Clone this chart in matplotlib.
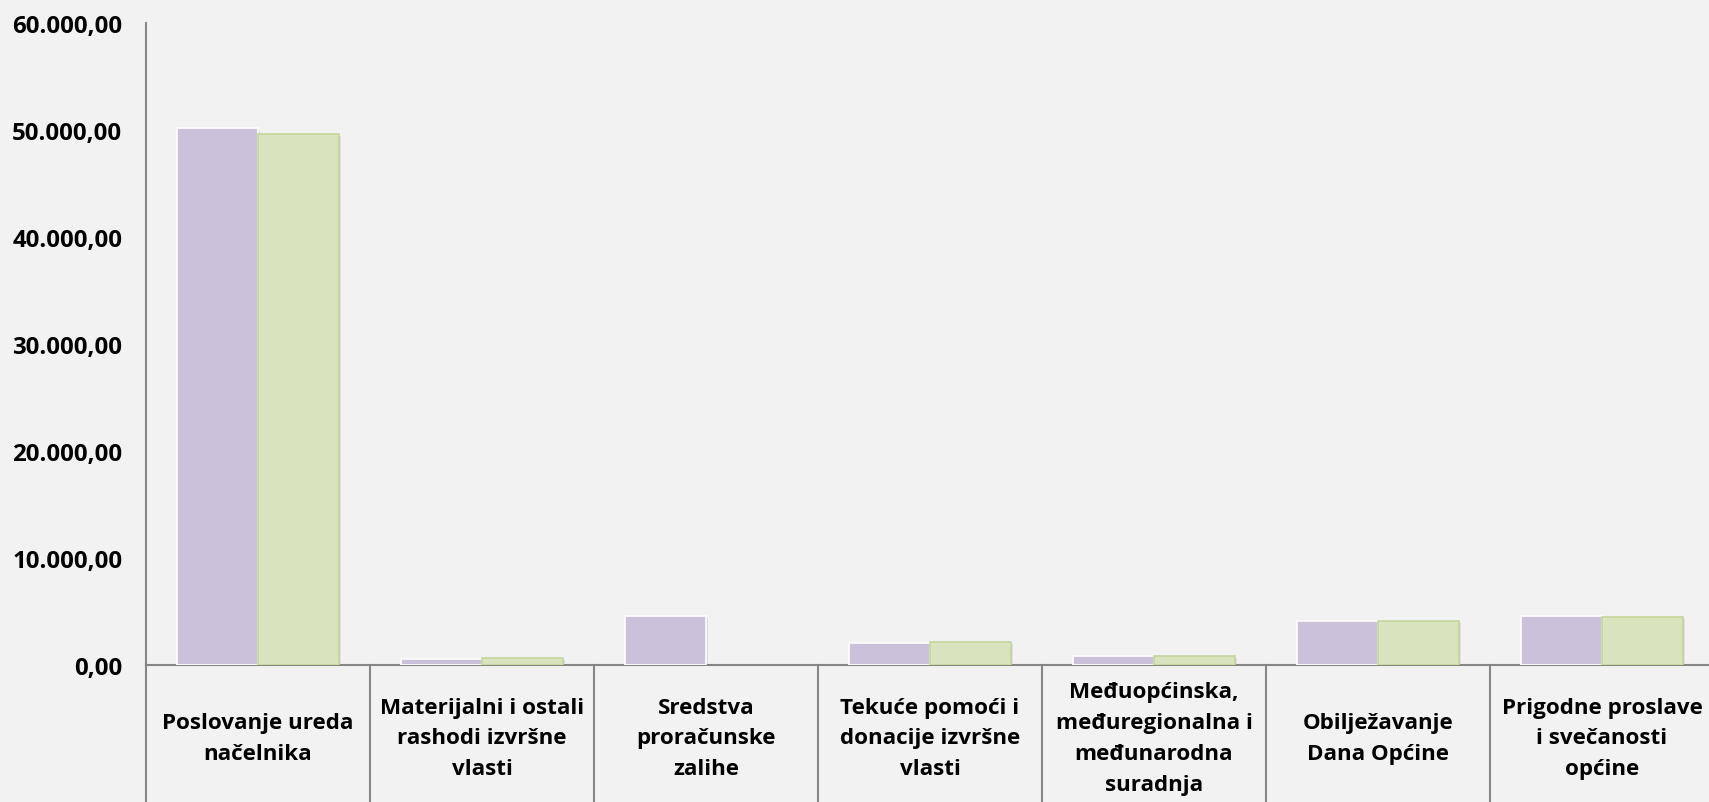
import matplotlib
matplotlib.use("Agg")
import matplotlib.pyplot as plt
import matplotlib.patheffects as pe
from matplotlib.ticker import FuncFormatter

plt.rcParams['font.family'] = ['Open Sans', 'DejaVu Sans']

categories = [
    "Poslovanje ureda\nnačelnika",
    "Materijalni i ostali\nrashodi izvršne\nvlasti",
    "Sredstva\nproračunske\nzalihe",
    "Tekuće pomoći i\ndonacije izvršne\nvlasti",
    "Međuopćinska,\nmeđuregionalna i\nmeđunarodna\nsuradnja",
    "Obilježavanje\nDana Općine",
    "Prigodne proslave\ni svečanosti\nopćine",
]
plan = [50150, 560, 4550, 2030, 800, 4080, 4610]
izvrsenje = [49650, 620, 0, 2120, 880, 4140, 4510]
yticks = [0, 10000, 20000, 30000, 40000, 50000, 60000]

bg = '#F2F2F2'
fig = plt.figure(figsize=(17.09, 8.03), dpi=100, facecolor=bg)
ax = fig.add_axes([146/1709, 1 - 666/803, 1568/1709, 642/803], facecolor=bg)

x = list(range(len(categories)))
w = 0.36
shadow = [pe.SimplePatchShadow(offset=(1.5, -1.5), alpha=0.12), pe.Normal()]
b1 = ax.bar([i - w/2 for i in x], plan, width=w, color='#CCC1DA',
            edgecolor='#FFFFFF', linewidth=1.2, zorder=3)
b2 = ax.bar([i + w/2 for i in x], izvrsenje, width=w, color='#D7E4BD',
            edgecolor='#C3D69B', linewidth=1.2, zorder=3)
for b in list(b1) + list(b2):
    if b.get_height() > 0:
        b.set_path_effects(shadow)
    else:
        b.set_visible(False)

ax.set_xlim(-0.5, len(categories) - 0.5)
ax.set_ylim(0, 60000)
ax.set_yticks(yticks)
ax.yaxis.set_major_formatter(FuncFormatter(
    lambda v, p: f"{v:,.2f}".replace(',', 'X').replace('.', ',').replace('X', '.')))
ax.tick_params(axis='y', length=0, pad=17, labelsize=17.3)
for lbl in ax.get_yticklabels():
    lbl.set_fontweight('bold')
ax.set_xticks([])

for s in ['top', 'right']:
    ax.spines[s].set_visible(False)
ax.spines['left'].set_color('#868686')
ax.spines['left'].set_linewidth(1.5)
ax.spines['bottom'].set_color('#868686')
ax.spines['bottom'].set_linewidth(1.5)

tr = ax.get_xaxis_transform()
for i in range(len(categories) + 1):
    ax.plot([i - 0.5, i - 0.5], [0, -0.25], transform=tr, color='#868686',
            linewidth=1.5, clip_on=False, zorder=1)

for i, c in enumerate(categories):
    ax.text(i, -73/642, c, transform=tr, ha='center', va='center',
            fontsize=16.1, fontweight='bold', linespacing=1.62)

fig.savefig('out.png', dpi=100, facecolor=bg)
